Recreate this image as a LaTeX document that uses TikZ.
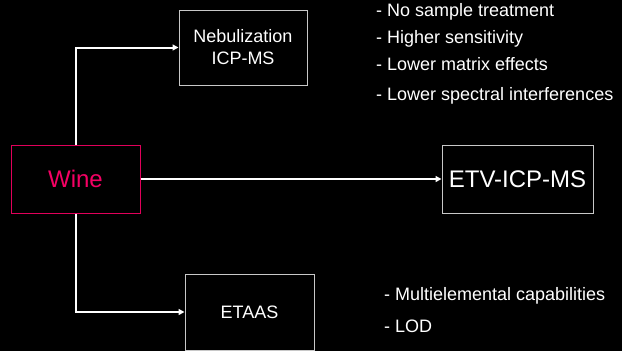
\documentclass[tikz,border=0pt]{standalone}
\usepackage{fontspec}
\setmainfont{Liberation Sans}
\usetikzlibrary{arrows.meta}
\definecolor{winered}{RGB}{245,0,100}
\definecolor{wineborder}{RGB}{225,0,90}
\definecolor{boxgrey}{RGB}{200,200,200}
\tikzset{
  box/.style={draw=boxgrey, line width=1pt, fill=black, text=white, inner sep=0pt, align=center, font=\fontsize{18}{22}\selectfont},
  arr/.style={draw=white, line width=2pt, -{Triangle[length=6pt,width=6pt]}},
  note/.style={text=white, anchor=base west, inner sep=0pt, font=\fontsize{18}{22}\selectfont}
}
\begin{document}
\begin{tikzpicture}[x=1pt,y=-1pt]
\fill[black] (0,0) rectangle (622,351);
\useasboundingbox (0,0) rectangle (622,351);
\node[box, draw=wineborder, text=winered, minimum width=129pt, minimum height=68pt, font=\fontsize{24}{28}\selectfont] (wine) at (75.5,179) {Wine};
\node[box, minimum width=128pt, minimum height=75pt] (neb) at (243,47.5) {Nebulization\\ICP-MS};
\node[box, minimum width=151pt, minimum height=68pt, font=\fontsize{24}{28}\selectfont] (etv) at (517.5,179) {ETV-ICP-MS};
\node[box, minimum width=129pt, minimum height=76pt] (etaas) at (249.5,312) {ETAAS};
\draw[arr] (wine.north) |- (neb.west);
\draw[arr] (wine.south) |- (etaas.west);
\draw[arr] (wine.east) -- (etv.west);
\node[note] (n1) at (376,16) {- No sample treatment};
\node[note] (n2) at (376,43) {- Higher sensitivity};
\node[note] (n3) at (376,70) {- Lower matrix effects};
\node[note] (n4) at (376,100) {- Lower spectral interferences};
\node[note] (m1) at (384,300) {- Multielemental capabilities};
\node[note] (m2) at (384,332) {- LOD};
\end{tikzpicture}
\end{document}
